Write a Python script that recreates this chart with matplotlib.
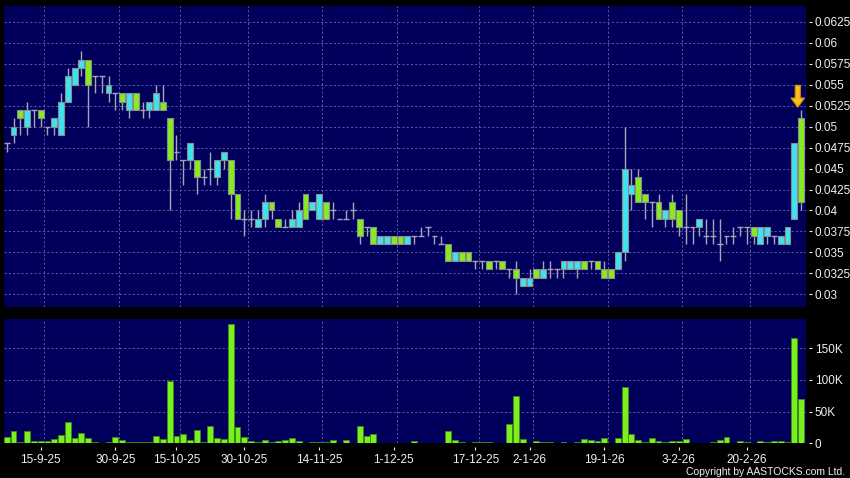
import matplotlib
matplotlib.use('Agg')
import matplotlib.pyplot as plt
from matplotlib.patches import Polygon
from matplotlib.ticker import FixedLocator, FuncFormatter, NullLocator
import numpy as np

# ---------------- data ----------------
open_ = [0.048, 0.049, 0.052, 0.050, 0.052, 0.052, 0.050, 0.050, 0.049, 0.053,
         0.055, 0.057, 0.058, 0.056, 0.056, 0.054, 0.054, 0.054, 0.052, 0.054,
         0.052, 0.052, 0.052, 0.053, 0.051, 0.047, 0.046, 0.046, 0.046, 0.044,
         0.045, 0.044, 0.046, 0.046, 0.042, 0.039, 0.039, 0.038, 0.039, 0.041,
         0.039, 0.038, 0.038, 0.038, 0.042, 0.040, 0.039, 0.041, 0.040, 0.039,
         0.039, 0.040, 0.039, 0.038, 0.038, 0.036, 0.036, 0.037, 0.037, 0.036,
         0.037, 0.037, 0.038, 0.037, 0.036, 0.036, 0.034, 0.035, 0.035, 0.034,
         0.034, 0.034, 0.034, 0.034, 0.033, 0.033, 0.031, 0.031, 0.033, 0.032,
         0.033, 0.033, 0.033, 0.033, 0.033, 0.034, 0.034, 0.034, 0.033, 0.033,
         0.033, 0.035, 0.042, 0.044, 0.042, 0.041, 0.041, 0.039, 0.041, 0.040,
         0.038, 0.038, 0.038, 0.037, 0.037, 0.036, 0.037, 0.037, 0.038, 0.038,
         0.038, 0.036, 0.037, 0.037, 0.036, 0.036, 0.039, 0.051]
high = [0.048, 0.051, 0.052, 0.053, 0.052, 0.052, 0.050, 0.051, 0.054, 0.057,
        0.057, 0.059, 0.058, 0.056, 0.056, 0.056, 0.054, 0.054, 0.054, 0.054,
        0.053, 0.053, 0.055, 0.055, 0.051, 0.049, 0.046, 0.048, 0.046, 0.045,
        0.047, 0.046, 0.047, 0.046, 0.042, 0.040, 0.040, 0.040, 0.042, 0.041,
        0.039, 0.039, 0.040, 0.041, 0.042, 0.041, 0.042, 0.041, 0.041, 0.039,
        0.040, 0.041, 0.039, 0.038, 0.038, 0.037, 0.037, 0.037, 0.037, 0.037,
        0.037, 0.038, 0.038, 0.037, 0.037, 0.036, 0.035, 0.035, 0.035, 0.034,
        0.034, 0.034, 0.034, 0.034, 0.033, 0.034, 0.032, 0.033, 0.033, 0.034,
        0.034, 0.033, 0.034, 0.034, 0.034, 0.034, 0.034, 0.034, 0.034, 0.033,
        0.035, 0.050, 0.045, 0.045, 0.042, 0.041, 0.042, 0.040, 0.042, 0.040,
        0.042, 0.038, 0.039, 0.039, 0.039, 0.039, 0.037, 0.038, 0.038, 0.038,
        0.038, 0.038, 0.038, 0.037, 0.037, 0.038, 0.048, 0.052]
low = [0.047, 0.048, 0.049, 0.049, 0.050, 0.050, 0.049, 0.049, 0.049, 0.053,
       0.055, 0.056, 0.050, 0.054, 0.054, 0.053, 0.052, 0.052, 0.051, 0.052,
       0.051, 0.051, 0.052, 0.052, 0.040, 0.046, 0.043, 0.045, 0.042, 0.043,
       0.043, 0.043, 0.045, 0.039, 0.039, 0.037, 0.038, 0.038, 0.038, 0.039,
       0.038, 0.038, 0.038, 0.038, 0.039, 0.040, 0.039, 0.039, 0.039, 0.039,
       0.039, 0.039, 0.036, 0.037, 0.036, 0.036, 0.036, 0.036, 0.036, 0.036,
       0.036, 0.037, 0.037, 0.036, 0.036, 0.034, 0.034, 0.034, 0.034, 0.033,
       0.033, 0.033, 0.033, 0.033, 0.032, 0.030, 0.031, 0.031, 0.032, 0.032,
       0.032, 0.032, 0.032, 0.033, 0.032, 0.033, 0.033, 0.033, 0.032, 0.032,
       0.033, 0.034, 0.040, 0.041, 0.039, 0.038, 0.039, 0.038, 0.038, 0.037,
       0.036, 0.036, 0.037, 0.036, 0.036, 0.034, 0.036, 0.036, 0.037, 0.036,
       0.036, 0.036, 0.036, 0.036, 0.036, 0.036, 0.039, 0.040]
close = [0.048, 0.050, 0.051, 0.052, 0.052, 0.051, 0.050, 0.051, 0.053, 0.056,
         0.057, 0.058, 0.055, 0.056, 0.056, 0.055, 0.054, 0.053, 0.054, 0.052,
         0.052, 0.053, 0.054, 0.052, 0.046, 0.047, 0.046, 0.048, 0.044, 0.044,
         0.045, 0.046, 0.047, 0.042, 0.039, 0.039, 0.039, 0.039, 0.041, 0.040,
         0.038, 0.038, 0.039, 0.040, 0.039, 0.041, 0.042, 0.039, 0.040, 0.039,
         0.039, 0.040, 0.037, 0.038, 0.036, 0.037, 0.037, 0.036, 0.036, 0.037,
         0.037, 0.037, 0.038, 0.037, 0.036, 0.034, 0.035, 0.034, 0.034, 0.034,
         0.034, 0.033, 0.034, 0.033, 0.033, 0.032, 0.032, 0.032, 0.032, 0.033,
         0.033, 0.033, 0.034, 0.034, 0.034, 0.033, 0.034, 0.033, 0.032, 0.032,
         0.035, 0.045, 0.043, 0.041, 0.041, 0.041, 0.039, 0.040, 0.039, 0.038,
         0.038, 0.038, 0.039, 0.037, 0.037, 0.036, 0.037, 0.037, 0.038, 0.038,
         0.037, 0.038, 0.038, 0.037, 0.037, 0.038, 0.048, 0.041]
volume_k = [9.6, 20, 1.5, 20, 4, 4, 4, 6, 13, 33,
            8, 17, 8.5, 1.5, 0.5, 1.5, 10, 5, 2.5, 1.5,
            2, 2, 11, 7.5, 99, 12, 14, 5, 21, 1.5,
            27, 8, 6, 188, 25, 10, 4, 1.5, 5, 2.5,
            4, 5, 8, 3, 1, 1.5, 1.5, 1.5, 5, 0.5,
            5, 0.3, 27, 11, 15, 0.3, 0.3, 1, 1, 1,
            4, 0.3, 0.3, 0.3, 1, 20, 5, 1.5, 0.3, 1.5,
            1.5, 1.5, 0.3, 1, 30, 75, 6, 1, 4, 2,
            2.5, 1, 1.5, 0.3, 1.5, 6, 5, 3, 8, 0.5,
            8.5, 88, 14, 5, 2, 8, 4, 1.5, 4, 4,
            7, 0.3, 0.3, 0.3, 1.5, 5, 10, 0.3, 3, 1.5,
            0.5, 3, 2, 4, 4, 1.5, 166, 70]
tick_idx = [5, 16, 25, 35, 46, 57, 69, 77, 88, 99, 109]
tick_labels = ['15-9-25', '30-9-25', '15-10-25', '30-10-25', '14-11-25', '1-12-25',
               '17-12-25', '2-1-26', '19-1-26', '3-2-26', '20-2-26']
price_ticks = [0.03, 0.0325, 0.035, 0.0375, 0.04, 0.0425, 0.045, 0.0475,
               0.05, 0.0525, 0.055, 0.0575, 0.06, 0.0625]
vol_ticks = [0, 50000, 100000, 150000]

# ---------------- style ----------------
BG = '#000000'
PANEL = '#00005c'
GRID = '#5a5a9c'
UP = '#3fe2f0'
DOWN = '#86ec1e'
EDGE = '#8c8c8c'
WICK = '#a4a4b4'
VOLC = '#7cf01c'
TXT = '#f0f0f0'
FONT = 'Liberation Sans'
FS = 8.5

o = np.array(open_); h = np.array(high); l = np.array(low); c = np.array(close)
vol = np.array(volume_k) * 1000
x = np.arange(len(c))
W = 0.86

fig = plt.figure(figsize=(8.5, 4.78), dpi=100, facecolor=BG)
ax = fig.add_axes([4/850, 1-306.7/478, (805.7-4)/850, (306.7-6)/478])
axv = fig.add_axes([4/850, 1-443.3/478, (805.7-4)/850, (443.3-319)/478])

xlim = (-0.4, 117.67)
dash = (0, (2.2, 2.2))
for a in (ax, axv):
    a.set_facecolor(PANEL)
    a.set_xlim(*xlim)
    for s in a.spines.values():
        s.set_visible(False)
    a.yaxis.tick_right()
    a.spines['right'].set_position(('outward', 2.4))
    a.tick_params(axis='y', colors=TXT, length=2.3, width=0.8, pad=1.8, labelsize=FS)
    for ti in tick_idx:
        a.axvline(ti + 0.5, color=GRID, lw=0.7, ls=dash, zorder=1)

# price panel
ax.set_ylim(0.02852, 0.0644)
ax.yaxis.set_major_locator(FixedLocator(price_ticks))
ax.yaxis.set_major_formatter(FuncFormatter(lambda v, p: '{:g}'.format(round(v, 5))))
for pt in price_ticks:
    ax.axhline(pt, color=GRID, lw=0.7, ls=dash, zorder=1)
ax.xaxis.set_major_locator(NullLocator())

ax.vlines(x, l, h, color=WICK, lw=1.0, zorder=2)
body_lo = np.minimum(o, c)
body_hi = np.maximum(o, c)
nondoji = body_hi > body_lo
cols = np.where(c > o, UP, DOWN)
ax.bar(x[nondoji], (body_hi - body_lo)[nondoji], bottom=body_lo[nondoji], width=W,
       color=cols[nondoji], edgecolor=EDGE, linewidth=0.8, zorder=3)
doji = ~nondoji
ax.hlines(o[doji], x[doji] - W/2, x[doji] + W/2, color=WICK, lw=1.0, zorder=3)

# arrow marker above the last bars
ax_x = x[-1] - 0.5
ytop, ybot = 0.05494, 0.05232
sw, hw = 0.38, 1.0
ymid = ybot + (ytop - ybot) * 0.42
arrow = Polygon([[ax_x - sw, ytop], [ax_x + sw, ytop], [ax_x + sw, ymid], [ax_x + hw, ymid],
                 [ax_x, ybot], [ax_x - hw, ymid], [ax_x - sw, ymid]], closed=True,
                facecolor='#f7c21a', edgecolor='#d98a00', lw=0.8, zorder=5)
ax.add_patch(arrow)

# volume panel
axv.set_ylim(0, 196000)
axv.yaxis.set_major_locator(FixedLocator(vol_ticks))
axv.yaxis.set_major_formatter(FuncFormatter(lambda v, p: '0' if v == 0 else '{:d}K'.format(int(v/1000))))
for vt in vol_ticks[1:]:
    axv.axhline(vt, color=GRID, lw=0.7, ls=dash, zorder=1)
axv.bar(x, vol, width=W, color=VOLC, edgecolor='#3c8a14', linewidth=0.6, zorder=3)
axv.xaxis.set_major_locator(FixedLocator(tick_idx))
axv.set_xticklabels(tick_labels)
axv.spines['bottom'].set_position(('outward', 2.4))
axv.tick_params(axis='x', colors=TXT, length=2.3, width=0.8, pad=3.0, labelsize=FS)

for a in (ax, axv):
    for t in a.get_yticklabels() + a.get_xticklabels():
        t.set_fontfamily(FONT)

fig.text(0.9941, 1-471.7/478, 'Copyright by AASTOCKS.com Ltd.', color=TXT, fontsize=7.5,
         ha='right', va='center', family=FONT)

fig.savefig('out.png', dpi=100, facecolor=BG)
